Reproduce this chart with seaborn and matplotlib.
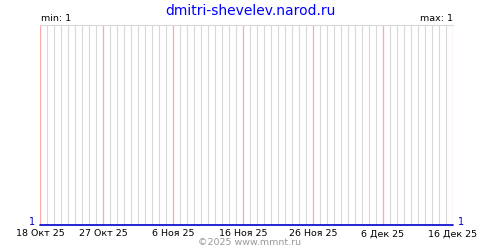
import matplotlib
matplotlib.use("Agg")
import matplotlib.pyplot as plt
import matplotlib.transforms as mtransforms
import seaborn as sns
import pandas as pd

# ---- data ----
dates = pd.date_range("2025-10-18", "2025-12-16", freq="D")
values = [1, 1, 1, 1, 1, 1, 1, 1, 1, 1, 1, 1, 1, 1, 1, 1, 1, 1, 1, 1,
          1, 1, 1, 1, 1, 1, 1, 1, 1, 1, 1, 1, 1, 1, 1, 1, 1, 1, 1, 1,
          1, 1, 1, 1, 1, 1, 1, 1, 1, 1, 1, 1, 1, 1, 1, 1, 1, 1, 1, 1]
tick_dates = pd.to_datetime(["2025-10-18", "2025-10-27", "2025-11-06", "2025-11-16",
                             "2025-11-26", "2025-12-06", "2025-12-16"])
tick_labels = ["18 Окт 25", "27 Окт 25", "6 Ноя 25", "16 Ноя 25",
               "26 Ноя 25", "6 Дек 25", "16 Дек 25"]
title = "dmitri-shevelev.narod.ru"
min_text = "min: 1"
max_text = "max: 1"
footer = "©2025 www.mmnt.ru"

df = pd.DataFrame({"date": dates, "value": values})

sns.set_style("white")
plt.rcParams["font.family"] = ["DejaVu Sans"]

fig = plt.figure(figsize=(5, 2.5), dpi=100)
ax = fig.add_axes([0.08, 0.1, 0.826, 0.8])

# daily grid lines (skip those under the pink date lines)
tick_set = set(tick_dates)
for d in dates:
    if d not in tick_set:
        ax.axvline(d, color="#d8d8d8", lw=0.8, zorder=0, snap=True)
for d in tick_dates:
    ax.axvline(d, color="#ffa8a8", lw=0.9, zorder=1, snap=True)

sns.lineplot(data=df, x="date", y="value", ax=ax, color="#0000cc", lw=1.2,
             zorder=3, clip_on=False)

ax.set_xlim(dates[0], dates[-1])
ax.set_ylim(1, 2)
ax.set_xticks(tick_dates)
ax.set_xticklabels(tick_labels, fontsize=6.8, color="black")
ax.tick_params(axis="x", length=0, pad=3)
ax.set_yticks([])
ax.set_xlabel("")
ax.set_ylabel("")
for s in ["left", "right", "bottom"]:
    ax.spines[s].set_visible(False)
ax.spines["top"].set_color("#d8d8d8")
ax.spines["top"].set_linewidth(0.8)

fig.text(0.5, 0.955, title, ha="center", va="center", color="#0000ff", fontsize=10)
fig.text(0.082, 0.925, min_text, ha="left", va="center", color="black", fontsize=6.8)
fig.text(0.906, 0.925, max_text, ha="right", va="center", color="black", fontsize=6.8)
up = mtransforms.ScaledTranslation(0, 3 / 100, fig.dpi_scale_trans)
ax.text(-0.012, 1, "1", transform=ax.get_yaxis_transform() + up, ha="right", va="center",
        color="#0000cc", fontsize=7)
ax.text(1.012, 1, "1", transform=ax.get_yaxis_transform() + up, ha="left", va="center",
        color="#0000cc", fontsize=7)
fig.text(0.5, 0.03, footer, ha="center", va="center", color="#999999", fontsize=6.8)

fig.savefig("out.png", dpi=100)
